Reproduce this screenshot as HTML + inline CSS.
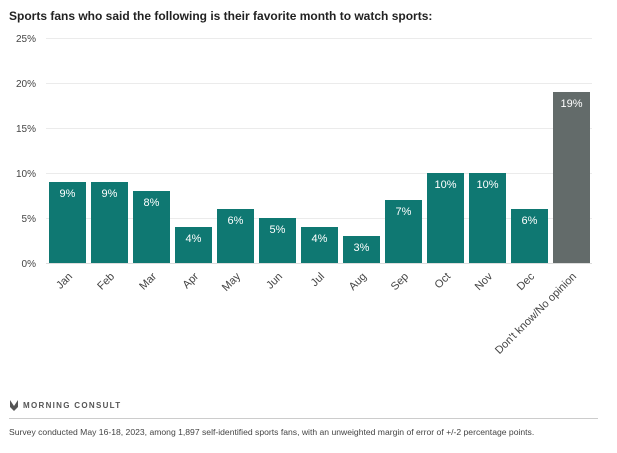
<!DOCTYPE html><html><head><style>body{margin:0;background:#fff;font-family:"Liberation Sans",sans-serif}</style></head><body>
<svg width="617" height="448" xmlns="http://www.w3.org/2000/svg" font-family="Liberation Sans, sans-serif">
<text x="9" y="20" font-size="12" font-weight="bold" fill="#222">Sports fans who said the following is their favorite month to watch sports:</text>
<g stroke="#ebebeb" stroke-width="1">
<line x1="46" x2="592" y1="38.5" y2="38.5"/><line x1="46" x2="592" y1="83.5" y2="83.5"/><line x1="46" x2="592" y1="128.5" y2="128.5"/><line x1="46" x2="592" y1="173.5" y2="173.5"/><line x1="46" x2="592" y1="218.5" y2="218.5"/>
</g>
<g font-size="10" fill="#444" text-anchor="end">
<text x="36" y="42">25%</text><text x="36" y="87">20%</text><text x="36" y="132">15%</text><text x="36" y="177">10%</text><text x="36" y="222">5%</text><text x="36" y="267">0%</text>
</g>
<g fill="#0f7872">
<rect x="49" y="182" width="37" height="81"/>
<rect x="91" y="182" width="37" height="81"/>
<rect x="133" y="191" width="37" height="72"/>
<rect x="175" y="227" width="37" height="36"/>
<rect x="217" y="209" width="37" height="54"/>
<rect x="259" y="218" width="37" height="45"/>
<rect x="301" y="227" width="37" height="36"/>
<rect x="343" y="236" width="37" height="27"/>
<rect x="385" y="200" width="37" height="63"/>
<rect x="427" y="173" width="37" height="90"/>
<rect x="469" y="173" width="37" height="90"/>
<rect x="511" y="209" width="37" height="54"/>
</g>
<rect x="553" y="92" width="37" height="171" fill="#636b6a"/>
<g font-size="11" fill="#fff" text-anchor="middle">
<text x="67.5" y="197">9%</text>
<text x="109.5" y="197">9%</text>
<text x="151.5" y="206">8%</text>
<text x="193.5" y="242">4%</text>
<text x="235.5" y="224">6%</text>
<text x="277.5" y="233">5%</text>
<text x="319.5" y="242">4%</text>
<text x="361.5" y="251">3%</text>
<text x="403.5" y="215">7%</text>
<text x="445.5" y="188">10%</text>
<text x="487.5" y="188">10%</text>
<text x="529.5" y="224">6%</text>
<text x="571.5" y="107">19%</text>
</g>
<line x1="46" x2="592" y1="263.5" y2="263.5" stroke="#ddd"/>
<g font-size="11" fill="#444" text-anchor="end">
<text transform="translate(73,277) rotate(-45)">Jan</text>
<text transform="translate(115,277) rotate(-45)">Feb</text>
<text transform="translate(157,277) rotate(-45)">Mar</text>
<text transform="translate(199,277) rotate(-45)">Apr</text>
<text transform="translate(241,277) rotate(-45)">May</text>
<text transform="translate(283,277) rotate(-45)">Jun</text>
<text transform="translate(325,277) rotate(-45)">Jul</text>
<text transform="translate(367,277) rotate(-45)">Aug</text>
<text transform="translate(409,277) rotate(-45)">Sep</text>
<text transform="translate(451,277) rotate(-45)">Oct</text>
<text transform="translate(493,277) rotate(-45)">Nov</text>
<text transform="translate(535,277) rotate(-45)">Dec</text>
<text transform="translate(577,277) rotate(-45)">Don't know/No opinion</text>
</g>
<g transform="translate(10,398)"><path d="M0 2 L4 8 L8 2 L8 9 L4 13 L0 9 Z" fill="#555"/></g>
<text x="23" y="408" font-size="8" font-weight="bold" letter-spacing="1.3" fill="#555">MORNING CONSULT</text>
<line x1="9" x2="598" y1="418.5" y2="418.5" stroke="#ccc"/>
<text x="9" y="435" font-size="8.6" fill="#444">Survey conducted May 16-18, 2023, among 1,897 self-identified sports fans, with an unweighted margin of error of +/-2 percentage points.</text>
</svg></body></html>
